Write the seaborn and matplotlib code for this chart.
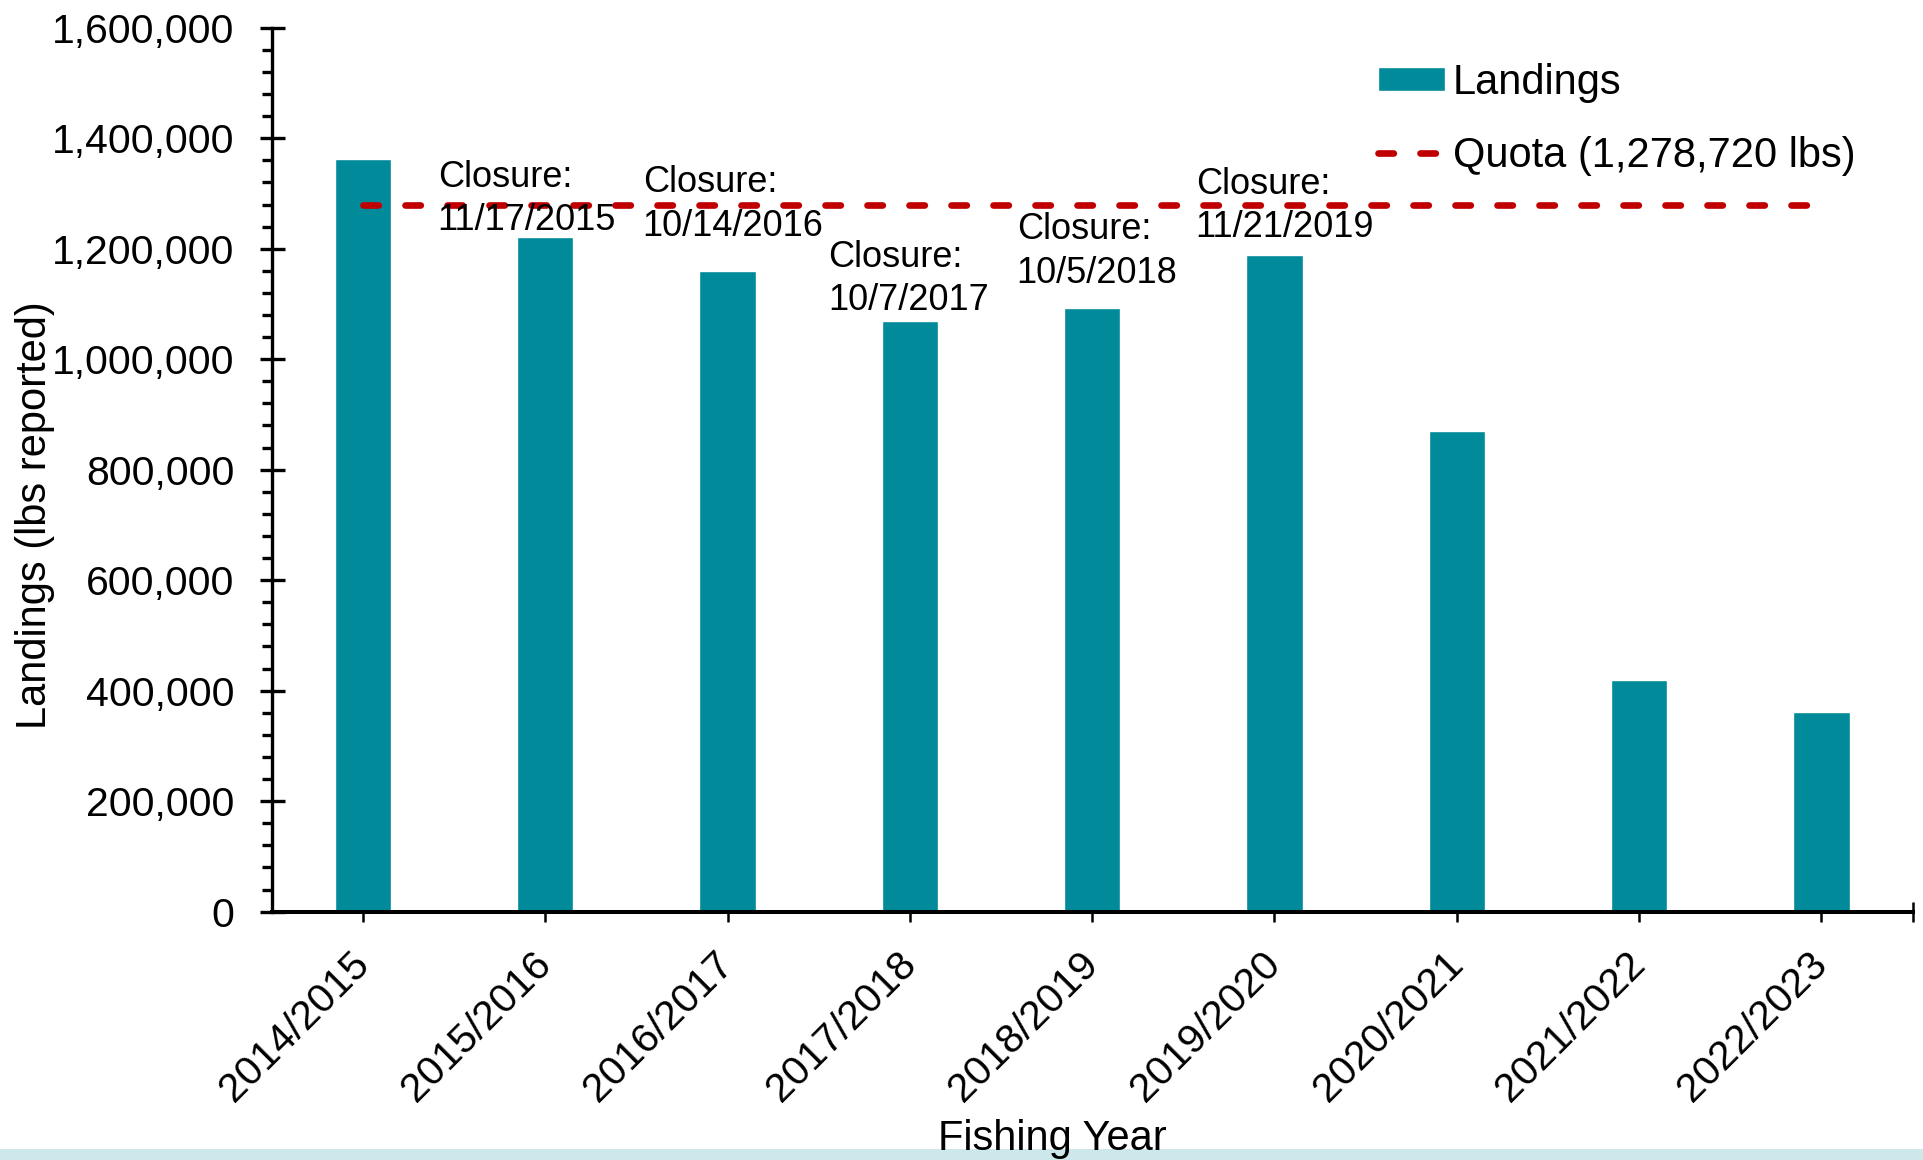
import numpy as np
import matplotlib
matplotlib.use("Agg")
import matplotlib.pyplot as plt
from matplotlib.ticker import MultipleLocator, FixedLocator, StrMethodFormatter
from matplotlib.patches import Rectangle
import seaborn as sns

# --- Data ---
years = ["2014/2015", "2015/2016", "2016/2017", "2017/2018", "2018/2019",
         "2019/2020", "2020/2021", "2021/2022", "2022/2023"]
landings = [1363000, 1222000, 1160000, 1069000, 1093000,
            1189000, 870000, 420000, 362000]
QUOTA = 1278720

# closure notes: (category position, y centre, text)
closure_x = [0.41, 1.535, 2.55, 3.586, 4.568]
closure_y = [1290000, 1280000, 1145000, 1195000, 1278000]
closure_txt = ["Closure:\n11/17/2015", "Closure:\n10/14/2016", "Closure:\n10/7/2017",
               "Closure:\n10/5/2018", "Closure:\n11/21/2019"]

BAR = "#018A99"
RED = "#C00000"

sns.set_style("ticks", {"axes.edgecolor": "black", "text.color": "black",
                        "axes.labelcolor": "black", "xtick.color": "black",
                        "ytick.color": "black"})
plt.rcParams["font.family"] = ["Liberation Sans", "DejaVu Sans"]

fig = plt.figure(figsize=(19.23, 11.6), dpi=100)
ax = fig.add_axes([0.1413, 0.2141, 0.9946 - 0.1413, 0.9761 - 0.2141])

sns.barplot(x=years, y=landings, color=BAR, saturation=1, width=0.31, ax=ax,
            label="Landings", zorder=2)

# quota line across the categories
xs = np.arange(len(years))
ax.plot(xs, np.full(len(years), QUOTA), color=RED, lw=4.8, dashes=(2.3, 4.0),
        dash_capstyle="round", label="Quota (1,278,720 lbs)", zorder=3)

for cx, cy, t in zip(closure_x, closure_y, closure_txt):
    ax.text(cx, cy, t, ha="left", va="center", fontsize=26, linespacing=1.3,
            color="black", zorder=4)

# --- Axes styling ---
ax.set_xlim(-0.5, 8.5)
ax.set_ylim(0, 1600000)
ax.yaxis.set_major_locator(MultipleLocator(200000))
ax.yaxis.set_minor_locator(MultipleLocator(40000))
ax.yaxis.set_major_formatter(StrMethodFormatter("{x:,.0f}"))
ax.xaxis.set_minor_locator(FixedLocator([8.5]))

sns.despine(ax=ax)
ax.spines["left"].set_linewidth(2.4)
ax.spines["bottom"].set_linewidth(2.9)

ax.tick_params(axis="y", which="major", direction="inout", length=18, width=2.4,
               pad=18, labelsize=29.5, colors="black")
ax.tick_params(axis="y", which="minor", direction="out", length=7, width=2.4,
               colors="black")
ax.tick_params(axis="x", which="both", direction="inout", length=15, width=1.8,
               pad=26, labelsize=29.5, colors="black")
for lab in ax.get_xticklabels():
    lab.set_rotation(45)
    lab.set_ha("right")
    lab.set_va("center")
    lab.set_rotation_mode("anchor")

ax.set_xlabel("Fishing Year", fontsize=30, va="baseline", color="black")
ax.xaxis.set_label_coords(0.547, 0.0086, transform=fig.transFigure)
ax.set_ylabel("Landings (lbs reported)", fontsize=30, va="center", color="black")
ax.yaxis.set_label_coords(0.018, 0.556, transform=fig.transFigure)

handles, labels = ax.get_legend_handles_labels()
order = [labels.index("Landings"), labels.index("Quota (1,278,720 lbs)")]
leg = ax.legend([handles[i] for i in order], [labels[i] for i in order],
                loc="upper left", bbox_to_anchor=(1378 / 1923, 0.946),
                bbox_transform=fig.transFigure, frameon=False, fontsize=30,
                borderpad=0, borderaxespad=0, handlelength=1.6, handletextpad=0.2,
                handleheight=0.53, labelspacing=0.8)
for t in leg.get_texts():
    t.set_color("black")

# light strip along the bottom of the page
fig.add_artist(Rectangle((0, 0), 1, 11 / 1160, transform=fig.transFigure,
                         facecolor="#CCE8EA", edgecolor="none", zorder=0))
ax.xaxis.label.set_zorder(5)

fig.savefig("out.png", dpi=100, facecolor="white")
